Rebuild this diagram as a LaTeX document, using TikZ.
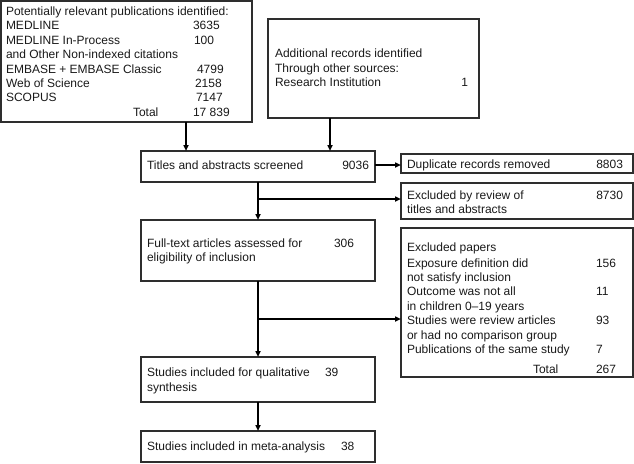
\documentclass[tikz,border=0pt]{standalone}
\usepackage{fontspec}
\setmainfont{Liberation Sans}
\usetikzlibrary{arrows.meta}
\tikzset{
  box/.style={draw=black!82, line width=1.1pt, inner sep=0pt, outer sep=0pt, anchor=north west},
  txt/.style={anchor=base west, inner sep=0pt, outer sep=0pt, text=black!90, font=\fontsize{12}{14.5}\selectfont},
  numr/.style={anchor=base east, inner sep=0pt, outer sep=0pt, text=black!90, font=\fontsize{12}{14.5}\selectfont},
  arr/.style={line width=1.7pt, -{Triangle[length=6pt,width=5pt]}},
  ln/.style={line width=1.7pt}
}
\begin{document}
\begin{tikzpicture}[x=1pt,y=-1pt]
\useasboundingbox (0,0) rectangle (634,463);
% boxes
\node[box, minimum width=251pt, minimum height=121pt] (b1) at (1,1) {};
\node[box, minimum width=211pt, minimum height=99pt] (b2) at (268,19) {};
\node[box, minimum width=234pt, minimum height=31pt] (tit) at (141,151) {};
\node[box, minimum width=234pt, minimum height=61pt] (full) at (141,220) {};
\node[box, minimum width=234pt, minimum height=45pt] (qual) at (141,357) {};
\node[box, minimum width=234pt, minimum height=31pt] (meta) at (141,431) {};
\node[box, minimum width=232pt, minimum height=19pt] (dup) at (401,154) {};
\node[box, minimum width=232pt, minimum height=36pt] (rev) at (401,183) {};
\node[box, minimum width=232pt, minimum height=149pt] (exc) at (401,228) {};
% box 1 text
\node[txt] (t1a) at (6,16) {Potentially relevant publications identified:};
\node[txt] (t1b) at (6,29) {MEDLINE};
\node[txt] (n1b) at (193,29) {3635};
\node[txt] (t1c) at (6,44) {MEDLINE In-Process};
\node[txt] (n1c) at (194,44) {100};
\node[txt] (t1d) at (6,58) {and Other Non-indexed citations};
\node[txt] (t1e) at (6,73) {EMBASE + EMBASE Classic};
\node[txt] (n1e) at (197,73) {4799};
\node[txt] (t1f) at (6,87) {Web of Science};
\node[txt] (n1f) at (195,87) {2158};
\node[txt] (t1g) at (6,101) {SCOPUS};
\node[txt] (n1g) at (196,101) {7147};
\node[txt] (t1h) at (133,116) {Total};
\node[txt] (n1h) at (193,116) {17 839};
% box 2 text
\node[txt] (t2a) at (275,57) {Additional records identified};
\node[txt] (t2b) at (275,72) {Through other sources:};
\node[txt] (t2c) at (275,86) {Research Institution};
\node[numr] (n2c) at (468,86) {1};
% titles
\node[txt] (tt) at (147,169) {Titles and abstracts screened};
\node[numr] (nt) at (369,169) {9036};
% full text
\node[txt] (tf1) at (147,247) {Full-text articles assessed for};
\node[txt] (tf2) at (147,261) {eligibility of inclusion};
\node[txt] (nf) at (334,247) {306};
% qualitative
\node[txt] (tq1) at (147,376) {Studies included for qualitative};
\node[txt] (tq2) at (147,391) {synthesis};
\node[txt] (nq) at (325,376) {39};
% meta
\node[txt] (tm) at (147,450) {Studies included in meta-analysis};
\node[txt] (nm) at (341,450) {38};
% duplicate
\node[txt] (td) at (407,168) {Duplicate records removed};
\node[numr] (nd) at (623,168) {8803};
% review
\node[txt] (tr1) at (407,199) {Excluded by review of};
\node[txt] (tr2) at (407,213) {titles and abstracts};
\node[numr] (nr) at (623,199) {8730};
% excluded papers
\node[txt] (te1) at (407,251) {Excluded papers};
\node[txt] (te2) at (407,267) {Exposure definition did};
\node[txt] (ne2) at (596,267) {156};
\node[txt] (te3) at (407,281) {not satisfy inclusion};
\node[txt] (te4) at (407,295) {Outcome was not all};
\node[txt] (ne4) at (596,295) {11};
\node[txt] (te5) at (407,310) {in children 0--19 years};
\node[txt] (te6) at (407,324) {Studies were review articles};
\node[txt] (ne6) at (596,324) {93};
\node[txt] (te7) at (407,339) {or had no comparison group};
\node[txt] (te8) at (407,353) {Publications of the same study};
\node[txt] (ne8) at (596,353) {7};
\node[txt] (te9) at (533,373) {Total};
\node[txt] (ne9) at (596,373) {267};
% connectors
\coordinate (x1) at (186,0);
\coordinate (x2) at (330,0);
\coordinate (j1) at (258,199);
\coordinate (j2) at (258,319);
\coordinate (yd) at (0,165);
\draw[arr] (b1.south -| x1) -- (tit.north -| x1);
\draw[arr] (b2.south -| x2) -- (tit.north -| x2);
\draw[arr] (tit.east |- yd) -- (dup.west |- yd);
\draw[arr] (tit.south) -- (full.north);
\draw[arr] (j1) -- (rev.west |- j1);
\draw[arr] (full.south) -- (qual.north);
\draw[arr] (j2) -- (exc.west |- j2);
\draw[arr] (qual.south) -- (meta.north);
\end{tikzpicture}
\end{document}
